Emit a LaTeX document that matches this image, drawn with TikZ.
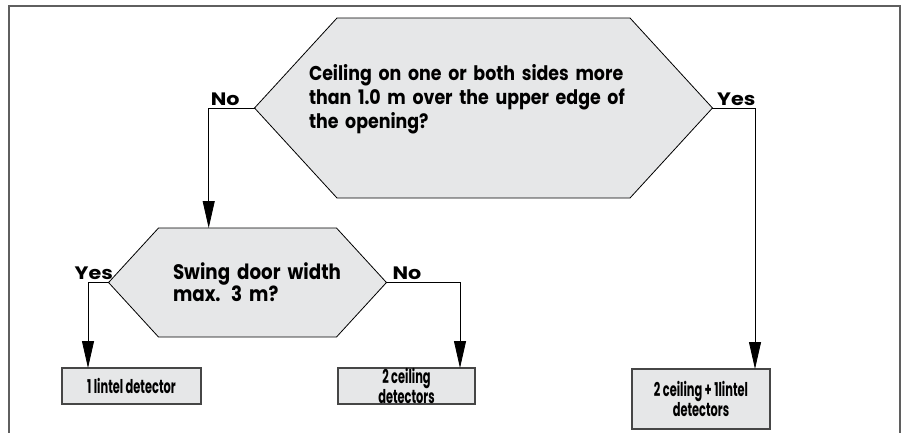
\documentclass[tikz,border=0pt]{standalone}
\usepackage{fontspec}
\setsansfont{Poppins}
\newfontfamily\qfont{Poppins}[FakeStretch=0.87]
\newfontfamily\answerfont{Poppins}[FakeStretch=1.15]
\newfontfamily\boxfont{Poppins}[FakeStretch=0.6]
\usetikzlibrary{positioning,shapes.symbols,arrows.meta}
\definecolor{shapefill}{RGB}{230,231,232}
\definecolor{framegray}{RGB}{95,95,95}
\definecolor{boxline}{RGB}{70,70,70}
\tikzset{every picture/.style={line width=0.8pt}}

\begin{document}
\begin{tikzpicture}[x=1pt, y=-1pt, >={Triangle[length=27pt,width=12pt]},
    question/.style={draw, fill=shapefill, signal, signal to=west and east, signal pointer angle=95, outer sep=0pt, inner ysep=0pt, align=left},
    result/.style={draw=boxline, line width=1.2pt, fill=shapefill, rectangle, outer sep=0pt, inner sep=0pt, align=center, font=\boxfont\bfseries\fontsize{19}{17}\selectfont},
    answer/.style={font=\answerfont\bfseries\fontsize{18}{20}\selectfont, inner sep=2pt, above}]
    \useasboundingbox (0,0) rectangle (904,432);
    % Frame
    \draw[framegray, line width=1.4pt] (9,440) -- (9,6) -- (900,6) -- (900,440);

    % Ceiling height question
    \node[question, minimum width=457pt, minimum height=180pt, text width=349pt, inner xsep=-28pt, font=\qfont\bfseries\fontsize{20}{24}\selectfont] (ceiling) at (483.5,108) {Ceiling on one or both sides more\\than 1.0 m over the upper edge of\\the opening?\\ \mbox{}};

    % Door width question
    \node[question, minimum width=277pt, minimum height=109pt, text width=149pt, inner xsep=14.5pt, font=\qfont\bfseries\fontsize{21}{22}\selectfont, below=30pt of ceiling, xshift=-236pt] (width) {\mbox{Swing door width}\\max. 3 m?};

    % Results
    \node[result, minimum width=139pt, minimum height=36pt, below=31pt of width, xshift=-116pt] (lintel) {1 lintel detector};
    \node[result, minimum width=137pt, minimum height=36pt, below=31pt of width, xshift=159pt] (twoceil) {2 ceiling\\detectors};
    \node[result, minimum width=138pt, minimum height=60pt, below=171pt of ceiling, xshift=217.5pt] (combo) {2 ceiling + 1lintel\\detectors};

    % Connections
    \draw[->] (ceiling.west) -| node[answer, pos=0.32] {No} ([xshift=-38.8pt]width.north);
    \draw[->] (ceiling.east) -| node[answer, pos=0.28] {Yes} ([xshift=54pt]combo.north);
    \draw[->] (width.west) -| node[answer, pos=0.36] {Yes} ([xshift=-43.5pt]lintel.north);
    \draw[->] (width.east) -| node[answer, pos=0.14] {No} ([xshift=53.5pt]twoceil.north);
\end{tikzpicture}
\end{document}
